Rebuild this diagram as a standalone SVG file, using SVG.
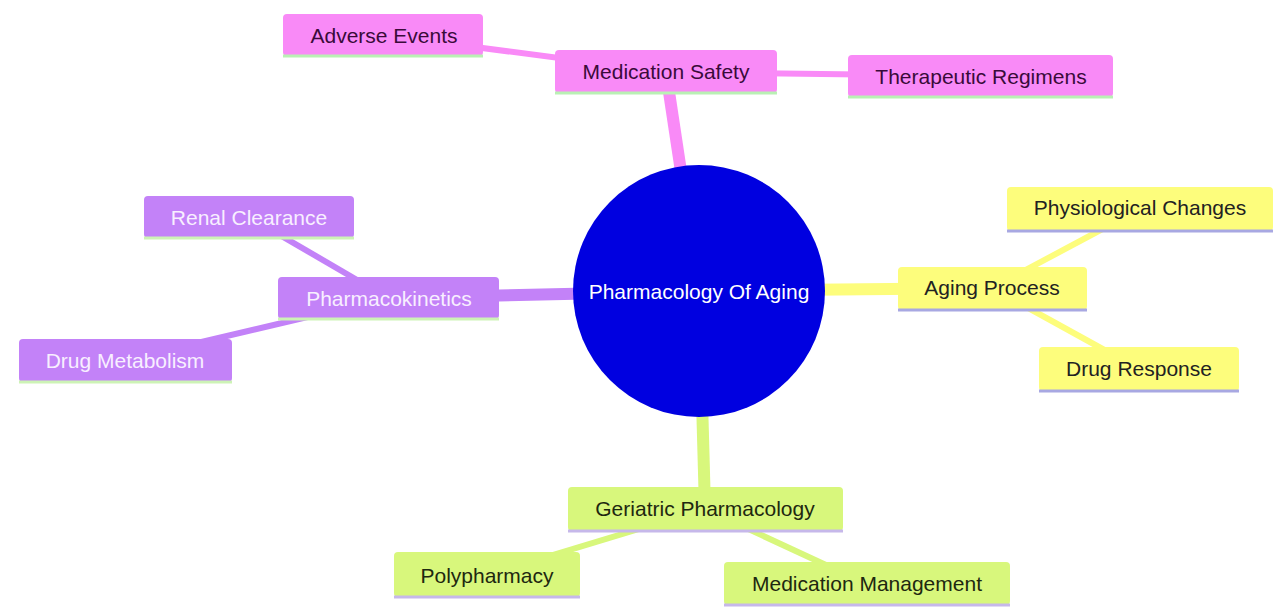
<svg xmlns="http://www.w3.org/2000/svg" width="1274" height="610" viewBox="0 0 1274 610">
<style>
text{font-family:"Liberation Sans",Arial,sans-serif;font-size:21px;text-anchor:middle;dominant-baseline:central}
.pk rect{fill:#f98af7}.pk text{fill:#3a0a3a}.pk line{stroke:#b9f0b4}
.pu rect{fill:#c382f8}.pu text{fill:#f8efff}.pu line{stroke:#cdf3b6}
.ye rect{fill:#fdfd7c}.ye text{fill:#222222}.ye line{stroke:#a8a8e2}
.gr rect{fill:#d8f77c}.gr text{fill:#1e2810}.gr line{stroke:#c6b8ea}
.node line{stroke-width:3}
#edges line{stroke-linecap:butt}
.e-pk{stroke:#f98af7}.e-pu{stroke:#c382f8}.e-ye{stroke:#fdfd7c}.e-gr{stroke:#d8f77c}
.main{stroke-width:12}.sub{stroke-width:6}
</style>
<rect width="1274" height="610" fill="#ffffff"/>
<g id="edges">
<line class="e-pk main" x1="699" y1="291" x2="666" y2="72"/>
<line class="e-pk sub" x1="666" y1="72" x2="383" y2="35"/>
<line class="e-pk sub" x1="666" y1="72" x2="981" y2="76"/>
<line class="e-pu main" x1="699" y1="291" x2="388" y2="298"/>
<line class="e-pu sub" x1="388" y1="298" x2="249" y2="217"/>
<line class="e-pu sub" x1="388" y1="298" x2="125" y2="360"/>
<line class="e-ye main" x1="699" y1="291" x2="992" y2="288"/>
<line class="e-ye sub" x1="992" y1="288" x2="1140" y2="209"/>
<line class="e-ye sub" x1="992" y1="288" x2="1139" y2="369"/>
<line class="e-gr main" x1="699" y1="291" x2="705" y2="509"/>
<line class="e-gr sub" x1="705" y1="509" x2="487" y2="575"/>
<line class="e-gr sub" x1="705" y1="509" x2="867" y2="584"/>
</g>
<g id="root">
<circle cx="699" cy="291" r="126" fill="#0000e0"/>
<text x="699" y="291" fill="#ffffff">Pharmacology Of Aging</text>
</g>
<g id="medication-safety" class="node pk">
<rect x="555" y="50" width="222" height="43" rx="4"/>
<line x1="555" y1="93" x2="777" y2="93"/>
<text x="666" y="71">Medication Safety</text>
</g>
<g id="adverse-events" class="node pk">
<rect x="283" y="14" width="200" height="42" rx="4"/>
<line x1="283" y1="56" x2="483" y2="56"/>
<text x="384" y="35">Adverse Events</text>
</g>
<g id="therapeutic-regimens" class="node pk">
<rect x="848" y="55" width="265" height="42" rx="4"/>
<line x1="848" y1="97" x2="1113" y2="97"/>
<text x="981" y="76">Therapeutic Regimens</text>
</g>
<g id="pharmacokinetics" class="node pu">
<rect x="278" y="277" width="221" height="42" rx="4"/>
<line x1="278" y1="319" x2="499" y2="319"/>
<text x="389" y="298">Pharmacokinetics</text>
</g>
<g id="renal-clearance" class="node pu">
<rect x="144" y="196" width="210" height="42" rx="4"/>
<line x1="144" y1="238" x2="354" y2="238"/>
<text x="249" y="217">Renal Clearance</text>
</g>
<g id="drug-metabolism" class="node pu">
<rect x="19" y="339" width="213" height="43" rx="4"/>
<line x1="19" y1="382" x2="232" y2="382"/>
<text x="125" y="360">Drug Metabolism</text>
</g>
<g id="aging-process" class="node ye">
<rect x="898" y="267" width="189" height="43" rx="4"/>
<line x1="898" y1="310" x2="1087" y2="310"/>
<text x="992" y="287">Aging Process</text>
</g>
<g id="physiological-changes" class="node ye">
<rect x="1007" y="187" width="266" height="44" rx="4"/>
<line x1="1007" y1="231" x2="1273" y2="231"/>
<text x="1140" y="207">Physiological Changes</text>
</g>
<g id="drug-response" class="node ye">
<rect x="1039" y="347" width="200" height="44" rx="4"/>
<line x1="1039" y1="391" x2="1239" y2="391"/>
<text x="1139" y="368">Drug Response</text>
</g>
<g id="geriatric-pharmacology" class="node gr">
<rect x="568" y="487" width="275" height="44" rx="4"/>
<line x1="568" y1="531" x2="843" y2="531"/>
<text x="705" y="508">Geriatric Pharmacology</text>
</g>
<g id="polypharmacy" class="node gr">
<rect x="394" y="552" width="186" height="45" rx="4"/>
<line x1="394" y1="597" x2="580" y2="597"/>
<text x="487" y="575">Polypharmacy</text>
</g>
<g id="medication-management" class="node gr">
<rect x="724" y="562" width="286" height="43" rx="4"/>
<line x1="724" y1="605" x2="1010" y2="605"/>
<text x="867" y="583">Medication Management</text>
</g>
</svg>
